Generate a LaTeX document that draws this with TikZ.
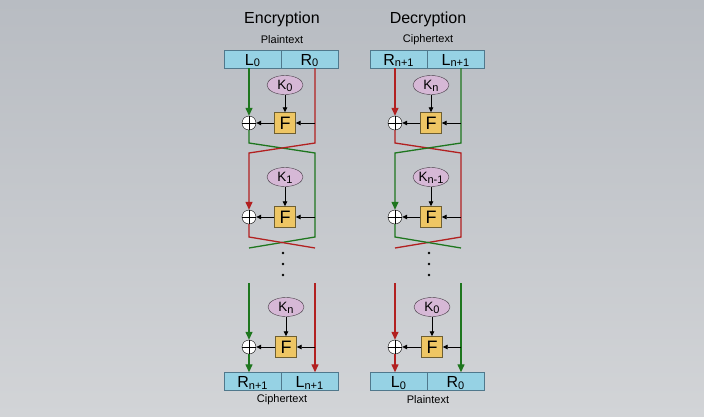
\documentclass[tikz,border=0pt]{standalone}
\usepackage{fontspec}
\setmainfont{Liberation Sans}
\usepackage{tikz}
\usetikzlibrary{arrows.meta,shapes.geometric,calc}

\definecolor{boxblue}{RGB}{150,210,228}
\definecolor{boxedge}{RGB}{80,120,140}
\definecolor{keypink}{RGB}{214,184,214}
\definecolor{keyedge}{RGB}{70,60,70}
\definecolor{fgold}{RGB}{238,198,100}
\definecolor{fedge}{RGB}{110,95,50}
\definecolor{wireg}{RGB}{30,118,30}
\definecolor{wirer}{RGB}{178,32,32}
\definecolor{bgtop}{RGB}{184,188,194}
\definecolor{bgbot}{RGB}{210,212,215}

\newcommand{\lowix}[1]{\raisebox{-1.5pt}{\fontsize{11}{11}\selectfont #1}}

\begin{document}
\begin{tikzpicture}[x=1pt,y=-1pt,
    half/.style={draw=boxedge, fill=boxblue, minimum width=57pt, minimum height=18pt, inner sep=0pt,
      text height=12pt, text depth=0pt, font=\fontsize{16}{16}\selectfont},
    key/.style={ellipse, draw=keyedge, fill=keypink, minimum width=36pt, minimum height=19pt, inner sep=0pt,
      text height=9.5pt, text depth=0pt, font=\fontsize{13.5}{13.5}\selectfont},
    fbox/.style={draw=fedge, fill=fgold, minimum size=21pt, inner sep=0pt, font=\fontsize{18}{18}\selectfont},
    xor/.style={circle, draw, fill=white, minimum size=14pt, inner sep=0pt,
      path picture={\draw (path picture bounding box.north) -- (path picture bounding box.south)
                          (path picture bounding box.west) -- (path picture bounding box.east);}},
    wire/.style={line width=1.3pt},
    into/.style={-{Triangle[length=8pt,width=7pt]}},
    feed/.style={-{Triangle[length=5pt,width=4.5pt]}, line width=0.8pt}
  ]
    % Background
    \shade[top color=bgtop, bottom color=bgbot] (0,0) rectangle (704,416);
    \useasboundingbox (0,0) rectangle (704,416);

    \foreach \n/\dx/\ttl/\ttop/\tbot/\ta/\tb/\ba/\bb/\ka/\kb/\kc/\ca/\cb in
      {enc/0/Encryption/Plaintext/Ciphertext/L\lowix{0}/R\lowix{0}/R\lowix{n+1}/L\lowix{n+1}/0/1/n/wireg/wirer,
       dec/146/Decryption/Ciphertext/Plaintext/R\lowix{n+1}/L\lowix{n+1}/L\lowix{0}/R\lowix{0}/n/n-1/0/wirer/wireg}
    {
    \begin{scope}[xshift=\dx pt]
      % Title and input block
      \node (\n title) at (282,19) {\fontsize{16}{16}\selectfont \ttl};
      \node (\n intext) at (282,40) {\fontsize{11}{11}\selectfont \ttop};
      \node[half] (\n a) at (252.5,59) {\ta};
      \node[half] (\n b) at (309.5,59) {\tb};
      \coordinate (\n L) at (249,0);
      \coordinate (\n R) at (315,0);

      % Round 1
      \node[key] (\n k1) at (285,85) {K\lowix{\ka}};
      \node[fbox] (\n f1) at (285,123) {F};
      \node[xor] (\n x1) at (249,123) {};
      % Round 2
      \node[key] (\n k2) at (285,177) {K\lowix{\kb}};
      \node[fbox] (\n f2) at (285,217) {F};
      \node[xor] (\n x2) at (249,217) {};
      % Last round
      \node[key] (\n k3) at (286,307) {K\lowix{\kc}};
      \node[fbox] (\n f3) at (286,347) {F};
      \node[xor] (\n x3) at (249,347) {};

      % Output block
      \node[half] (\n c) at (252.5,381.5) {\ba};
      \node[half] (\n d) at (309.5,381.5) {\bb};
      \node (\n outtext) at (282,400) {\fontsize{11}{11}\selectfont \tbot};

      % Wires
      \draw[wire,\ca,into] (\n a.south -| \n L) -- (\n x1.north);
      \draw[wire,\ca] (\n x1.south) -- (249,143) -- (315,153) -- (315,237) -- (249,248);
      \draw[wire,\cb,into] (\n b.south -| \n R) -- (315,143) -- (249,153) -- (\n x2.north);
      \draw[wire,\cb] (\n x2.south) -- (249,237) -- (315,248);
      \draw[wire,\ca,into] (249,283) -- (\n x3.north);
      \draw[wire,\ca,into] (\n x3.south) -- (\n c.north -| \n L);
      \draw[wire,\cb,into] (315,283) -- (\n d.north -| \n R);

      % Round function feeds
      \foreach \r in {1,2,3} {
        \draw[feed] (\n k\r) -- (\n f\r);
        \draw[feed] (\n R |- \n f\r) -- (\n f\r);
        \draw[feed] (\n f\r) -- (\n x\r);
      }

      % Dots
      \foreach \y in {253,264,275}
        \fill (283,\y) circle (1.4pt);
    \end{scope}
    }
\end{tikzpicture}
\end{document}
